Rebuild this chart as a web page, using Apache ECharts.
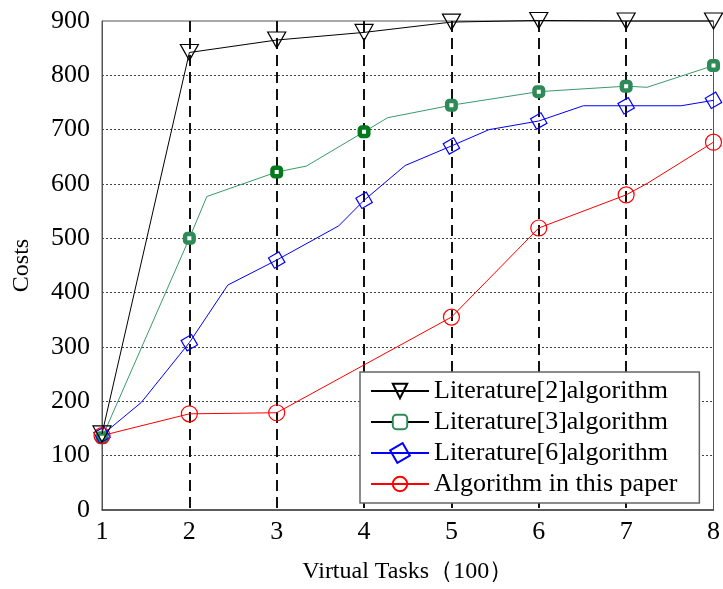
<!DOCTYPE html>
<html>
<head>
<meta charset="utf-8">
<script src="https://cdn.jsdelivr.net/npm/echarts@6/dist/echarts.min.js"></script>
<style>
  html, body { margin: 0; padding: 0; background: #fff; }
  #main { width: 723px; height: 589px; }
</style>
</head>
<body>
<div id="main"></div>
<script>
// series names
const names = ['Literature[2]algorithm', 'Literature[3]algorithm', 'Literature[6]algorithm', 'Algorithm in this paper'];

// x positions (virtual tasks, x100) and costs
const lit2X = [1, 2, 3, 4, 5, 6, 7, 8];
const lit2Y = [140, 842, 865, 879, 898, 901, 900, 900];

const lit3X = [1, 2, 2.2, 3, 3.34, 4, 4.27, 5, 6, 7, 7.24, 8];
const lit3Y = [133, 500, 577, 622, 633, 696, 722, 745, 770, 780, 778, 818];

const lit6X = [1, 1.45, 2, 2.44, 3, 3.71, 4, 4.47, 5, 5.43, 6, 6.51, 7, 7.63, 8];
const lit6Y = [138, 198, 308, 414, 460, 523, 570, 634, 670, 700, 716, 744, 744, 744, 754];

// x=4 sits behind the legend in the figure
const oursX = [1, 2, 3, 5, 6, 7, 7.24, 8];
const oursY = [137, 177, 179, 355, 519, 580, 601, 677];

// Literature[3] markers drawn darker at these x
const lit3DarkAt = [3, 4];

const FONT = "'Liberation Serif', 'Times New Roman', serif";

// markers only on whole task counts, bends in between have none
function buildData(xs, ys, darkAt) {
  return xs.map((x, i) => {
    if (!Number.isInteger(x)) {
      return { value: [x, ys[i]], symbol: 'none' };
    }
    if (darkAt && darkAt.indexOf(x) >= 0) {
      return { value: [x, ys[i]], itemStyle: { borderColor: '#007a1a' } };
    }
    return [x, ys[i]];
  });
}

const chart = echarts.init(document.getElementById('main'));

chart.setOption({
  animation: false,
  backgroundColor: '#fff',
  grid: {
    left: 102,
    right: 2,
    top: 21,
    bottom: 73,
    show: true,
    borderColor: '#555',
    borderWidth: 1,
  },
  legend: {
    left: 360,
    top: 372,
    orient: 'vertical',
    backgroundColor: '#fff',
    borderColor: '#666',
    borderWidth: 1.5,
    borderRadius: 0,
    padding: [6, 22, 6, 10],
    itemWidth: 58,
    itemHeight: 18,
    itemGap: 5,
    textStyle: { fontFamily: FONT, fontSize: 26, color: '#000', lineHeight: 26 },
    data: [
      { name: names[0] },
      { name: names[1], lineStyle: { color: '#000' } },
      { name: names[2] },
      { name: names[3] },
    ],
  },
  xAxis: {
    type: 'value',
    min: 1,
    max: 8,
    interval: 1,
    name: 'Virtual Tasks（100）',
    nameLocation: 'middle',
    nameGap: 50,
    nameTextStyle: { fontFamily: FONT, fontSize: 24, color: '#000' },
    axisLine: { lineStyle: { color: '#444', width: 1.5 } },
    axisTick: { show: false },
    axisLabel: { fontFamily: FONT, fontSize: 26, color: '#000', margin: 9 },
    splitLine: {
      show: true,
      showMinLine: false,
      showMaxLine: false,
      lineStyle: { color: '#111', width: 2, type: [11, 6] },
    },
  },
  yAxis: {
    type: 'value',
    min: 0,
    max: 900,
    interval: 100,
    name: 'Costs',
    nameLocation: 'middle',
    nameGap: 68,
    nameTextStyle: { fontFamily: FONT, fontSize: 24, color: '#000' },
    axisLine: { show: true, lineStyle: { color: '#555', width: 1 } },
    axisTick: { show: false },
    axisLabel: { fontFamily: FONT, fontSize: 26, color: '#000', margin: 12 },
    splitLine: {
      show: true,
      showMinLine: false,
      showMaxLine: false,
      lineStyle: { color: '#444', width: 1, type: [2, 2] },
    },
  },
  series: [
    {
      name: names[0],
      type: 'line',
      clip: false,
      data: buildData(lit2X, lit2Y),
      symbol: 'triangle',
      symbolRotate: 180,
      symbolSize: [18, 16],
      lineStyle: { color: '#000', width: 1 },
      itemStyle: { color: 'rgba(255,255,255,0)', borderColor: '#000', borderWidth: 1.2 },
      z: 4,
    },
    {
      name: names[1],
      type: 'line',
      clip: false,
      data: buildData(lit3X, lit3Y, lit3DarkAt),
      symbol: 'roundRect',
      symbolSize: 8.5,
      lineStyle: { color: '#3a9a6a', width: 1 },
      itemStyle: { color: '#fff', borderColor: '#2e8b57', borderWidth: 4.5 },
      z: 3,
    },
    {
      name: names[2],
      type: 'line',
      clip: false,
      data: buildData(lit6X, lit6Y),
      symbol: 'rect',
      symbolRotate: 30,
      symbolSize: 12,
      lineStyle: { color: '#0000ff', width: 1 },
      itemStyle: { color: 'rgba(255,255,255,0)', borderColor: '#0000ff', borderWidth: 1.2 },
      z: 3,
    },
    {
      name: names[3],
      type: 'line',
      clip: false,
      data: buildData(oursX, oursY),
      symbol: 'circle',
      symbolSize: 16,
      lineStyle: { color: '#ff0000', width: 1 },
      itemStyle: { color: 'rgba(255,255,255,0)', borderColor: '#ff0000', borderWidth: 1.2 },
      z: 3,
    },
  ],
});
</script>
</body>
</html>
